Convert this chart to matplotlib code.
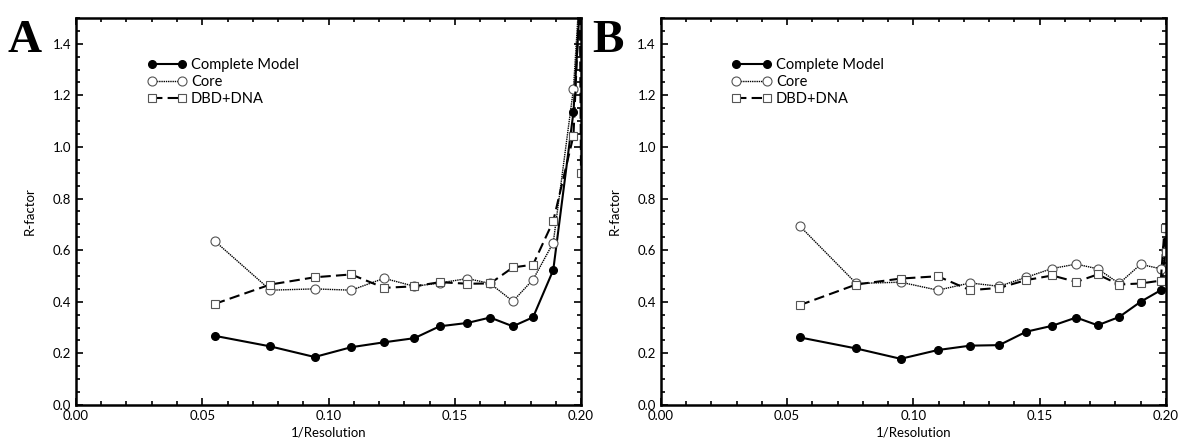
import matplotlib
matplotlib.use("Agg")
import matplotlib.pyplot as plt
from matplotlib.ticker import MultipleLocator

plt.rcParams['font.family'] = ['Lato', 'DejaVu Sans']

# Panel A
a_x_complete = [0.055, 0.077, 0.0945, 0.109, 0.122, 0.134, 0.144, 0.155, 0.164, 0.173, 0.181, 0.189, 0.197, 0.2]
a_complete = [0.268, 0.227, 0.186, 0.224, 0.243, 0.259, 0.305, 0.318, 0.339, 0.305, 0.340, 0.523, 1.135, 1.62]
a_x_core = [0.055, 0.077, 0.0945, 0.109, 0.122, 0.134, 0.144, 0.155, 0.164, 0.173, 0.181, 0.189, 0.197, 0.2]
a_core = [0.635, 0.445, 0.450, 0.445, 0.491, 0.460, 0.473, 0.490, 0.471, 0.402, 0.486, 0.629, 1.226, 1.70]
a_x_dbd = [0.055, 0.077, 0.0945, 0.109, 0.122, 0.134, 0.144, 0.155, 0.164, 0.173, 0.181, 0.189, 0.197, 0.1995, 0.2]
a_dbd = [0.392, 0.467, 0.495, 0.506, 0.454, 0.460, 0.476, 0.470, 0.471, 0.533, 0.544, 0.713, 1.044, 1.60, 0.90]

# Panel B
b_x_complete = [0.055, 0.0774, 0.095, 0.1097, 0.1225, 0.134, 0.1447, 0.155, 0.1645, 0.173, 0.1815, 0.190, 0.198, 0.2]
b_complete = [0.262, 0.219, 0.179, 0.213, 0.230, 0.232, 0.284, 0.307, 0.339, 0.309, 0.341, 0.400, 0.445, 0.610]
b_x_core = [0.055, 0.0774, 0.095, 0.1097, 0.1225, 0.134, 0.1447, 0.155, 0.1645, 0.173, 0.1815, 0.190, 0.198, 0.2]
b_core = [0.694, 0.471, 0.476, 0.445, 0.473, 0.460, 0.495, 0.529, 0.546, 0.528, 0.471, 0.545, 0.528, 0.600]
b_x_dbd = [0.055, 0.0774, 0.095, 0.1097, 0.1225, 0.134, 0.1447, 0.155, 0.1645, 0.173, 0.1815, 0.190, 0.198, 0.1995, 0.2]
b_dbd = [0.387, 0.467, 0.490, 0.499, 0.445, 0.454, 0.484, 0.502, 0.477, 0.506, 0.467, 0.471, 0.482, 0.687, 0.593]

panels = [
    ('A', [0.0644, 0.0899, 0.4280, 0.8697],
     (a_x_complete, a_complete), (a_x_core, a_core), (a_x_dbd, a_dbd)),
    ('B', [0.5600, 0.0899, 0.4280, 0.8697],
     (b_x_complete, b_complete), (b_x_core, b_core), (b_x_dbd, b_dbd)),
]

fig = plt.figure(figsize=(11.8, 4.45), dpi=100)

for letter, rect, comp, core, dbd in panels:
    ax = fig.add_axes(rect)
    ax.plot(comp[0], comp[1], color='black', lw=1.5, marker='o', ms=5.5,
            mfc='black', mec='black', label='Complete Model')
    ax.plot(core[0], core[1], color='black', lw=1.0, ls=(0, (1, 0.6)), marker='o', ms=6.5,
            mfc='white', mec='#555555', mew=0.8, label='Core')
    ax.plot(dbd[0], dbd[1], color='black', lw=1.5, ls=(0, (5, 2.5)), marker='s', ms=5.5,
            mfc='white', mec='#555555', mew=0.8, label='DBD+DNA')

    ax.set_xlim(0, 0.2)
    ax.set_ylim(0, 1.5)
    ax.xaxis.set_major_locator(MultipleLocator(0.05))
    ax.xaxis.set_minor_locator(MultipleLocator(0.01))
    ax.yaxis.set_major_locator(MultipleLocator(0.2))
    ax.yaxis.set_minor_locator(MultipleLocator(0.05))
    ax.xaxis.set_major_formatter(plt.FormatStrFormatter('%.2f'))
    ax.yaxis.set_major_formatter(plt.FormatStrFormatter('%.1f'))
    ax.tick_params(which='both', direction='in', top=True, right=True,
                   labelsize=9.5, colors='black', width=1.2)
    ax.tick_params(which='major', length=5)
    ax.tick_params(which='minor', length=3)
    for sp in ax.spines.values():
        sp.set_linewidth(1.8)
    ax.set_xlabel('1/Resolution', fontsize=9.5, labelpad=3)
    ax.set_ylabel('R-factor', fontsize=9.5, labelpad=12)

    ax.legend(loc='upper left', bbox_to_anchor=(0.115, 0.93), frameon=False,
              numpoints=2, handlelength=2.7, handletextpad=0.3,
              labelspacing=0.2, fontsize=10.5)

    fig.text(rect[0] - 0.058, rect[1] + rect[3] - 0.005, letter,
             family='Liberation Serif', fontweight='bold', fontsize=34,
             ha='left', va='top')

fig.savefig('out.png', dpi=100)
